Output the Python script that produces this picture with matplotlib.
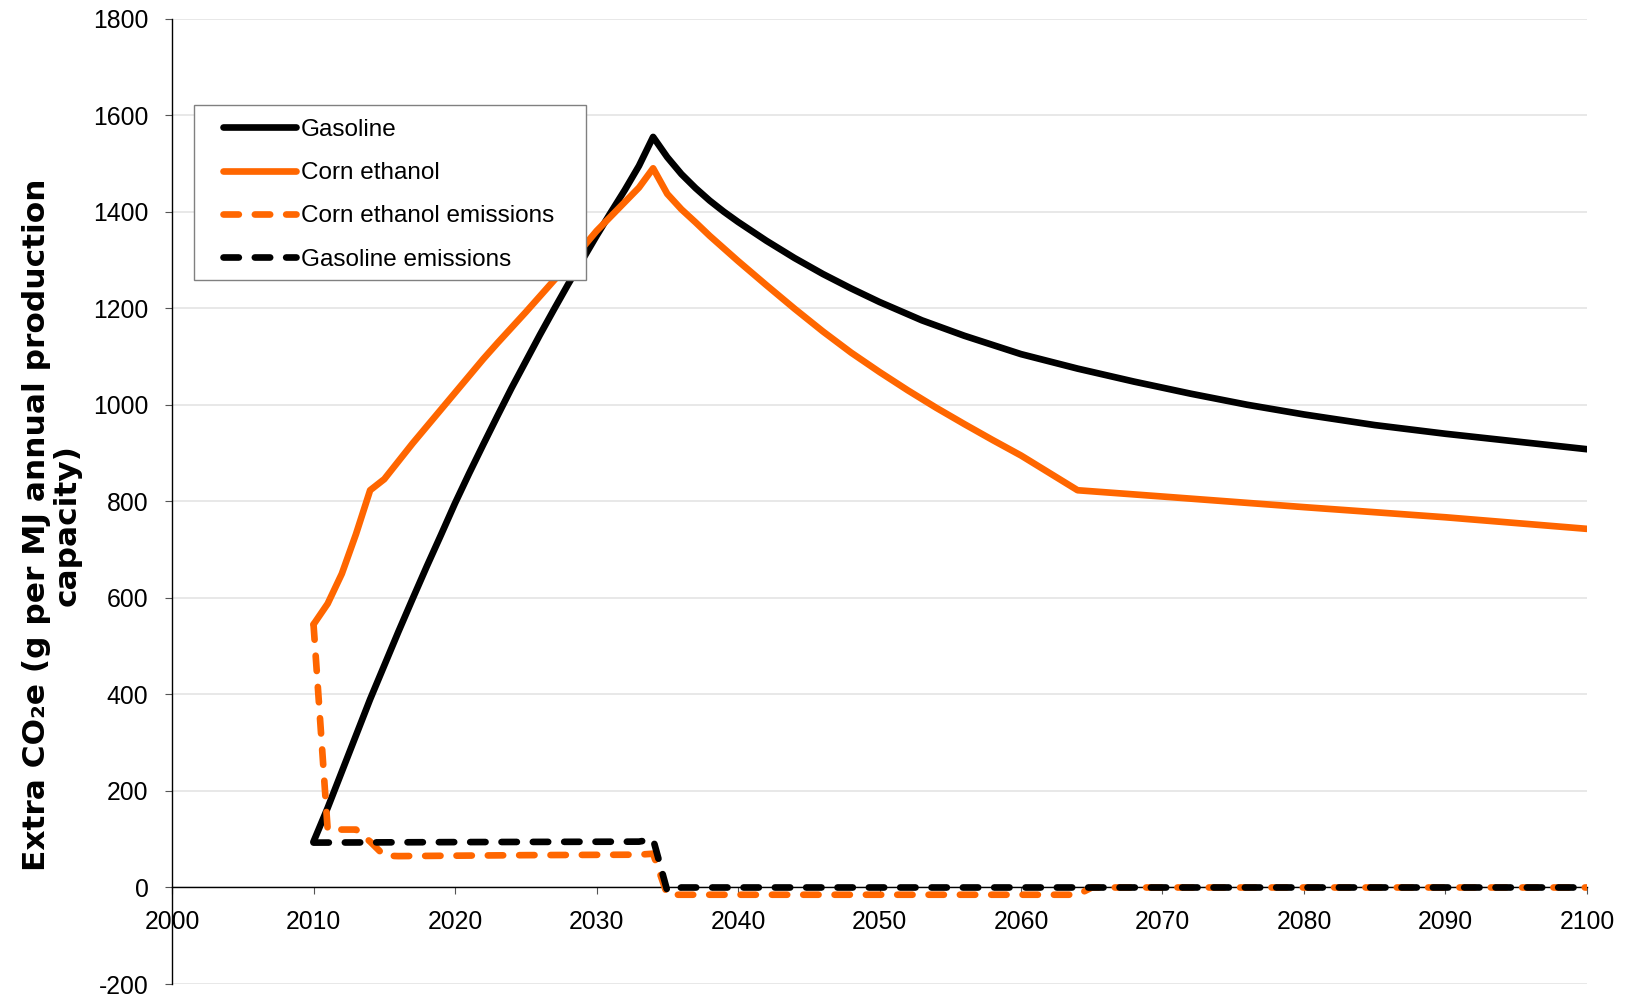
import numpy as np
import matplotlib
matplotlib.use("Agg")
import matplotlib.pyplot as plt
from matplotlib.patches import Rectangle

plt.rcParams["axes.unicode_minus"] = False

# Extra CO2e (g per MJ annual production capacity)
gas_years = [2010, 2011, 2012, 2013, 2014, 2015, 2016, 2017, 2018, 2019, 2020,
             2021, 2022, 2023, 2024, 2025, 2026, 2027, 2028, 2029, 2030,
             2031, 2032, 2033, 2034, 2035, 2036, 2037, 2038, 2039, 2040,
             2042, 2044, 2046, 2048, 2050, 2053, 2056, 2060, 2064, 2068,
             2072, 2076, 2080, 2085, 2090, 2095, 2100]
gas_vals = [95, 165, 240, 315, 390, 460, 530, 598, 665, 730, 796,
            858, 918, 977, 1035, 1090, 1145, 1198, 1250, 1300, 1350,
            1398, 1445, 1495, 1555, 1513, 1478, 1449, 1423, 1400, 1379,
            1340, 1304, 1271, 1241, 1213, 1175, 1143, 1105, 1075, 1048,
            1023, 1000, 980, 958, 940, 924, 908]

eth_years = [2010, 2011, 2012, 2013, 2014, 2015, 2016, 2017, 2018, 2019, 2020,
             2021, 2022, 2023, 2024, 2025, 2026, 2027, 2028, 2029, 2030,
             2031, 2032, 2033, 2034, 2035, 2036, 2037, 2038, 2039, 2040,
             2042, 2044, 2046, 2048, 2050, 2052, 2054, 2056, 2058, 2060,
             2062, 2064, 2070, 2080, 2090, 2100]
eth_vals = [545, 588, 650, 732, 823, 846, 883, 920, 955, 990, 1025,
            1060, 1095, 1128, 1160, 1192, 1225, 1258, 1290, 1325, 1360,
            1390, 1420, 1450, 1490, 1437, 1405, 1378, 1350, 1324, 1298,
            1248, 1199, 1152, 1108, 1068, 1030, 994, 960, 927, 895,
            859, 823, 810, 788, 767, 743]

eth_em_years = [2010, 2011, 2012, 2013, 2014, 2015, 2016, 2025, 2033, 2034,
                2035, 2050, 2064, 2065, 2100]
eth_em_vals = [545, 120, 120, 120, 95, 66, 65, 67, 68, 70,
               -15, -15, -15, 0, 0]

gas_em_years = [2010, 2020, 2033, 2034, 2035, 2036, 2100]
gas_em_vals = [93, 94, 95, 100, -7, 0, 0]

labels = ["Gasoline", "Corn ethanol", "Corn ethanol emissions", "Gasoline emissions"]
orange = "#ff6600"

fig = plt.figure(figsize=(16.26, 9.98), dpi=100)
ax = fig.add_axes([0.1058, 0.014, 0.8702, 0.9673])

lw = 4.8
dash = (0, (2.3, 2.4))
ax.plot(gas_years, gas_vals, color="black", lw=lw, solid_joinstyle="round",
        solid_capstyle="round", label=labels[0], zorder=3)
ax.plot(eth_years, eth_vals, color=orange, lw=lw, solid_joinstyle="round",
        solid_capstyle="round", label=labels[1], zorder=3)
ax.plot(eth_em_years, eth_em_vals, color=orange, lw=lw, ls=dash,
        dash_capstyle="round", label=labels[2], zorder=4)
ax.plot(gas_em_years, gas_em_vals, color="black", lw=lw, ls=dash,
        dash_capstyle="round", label=labels[3], zorder=5)

ax.set_xlim(2000, 2100)
ax.set_ylim(-200, 1800)
ax.set_xticks(np.arange(2000, 2101, 10))
ax.set_yticks(np.arange(-200, 1801, 200))

ax.yaxis.grid(True, color="#e4e4e4", lw=1.2, zorder=0)
ax.set_axisbelow(True)

for s in ["top", "right"]:
    ax.spines[s].set_visible(False)
ax.spines["bottom"].set_position(("data", 0))
ax.spines["bottom"].set_linewidth(1.0)
ax.spines["left"].set_linewidth(1.0)

tick_family = ["Liberation Sans", "DejaVu Sans"]
ax.tick_params(axis="both", direction="out", length=5, width=0.8, color="#555555")
ax.tick_params(axis="y", pad=12)
ax.tick_params(axis="x", pad=11)
for t in ax.get_xticklabels() + ax.get_yticklabels():
    t.set_fontfamily(tick_family)
    t.set_fontsize(17.8)

# y label, two centred lines
fig.text(0.032, 0.474, "Extra CO\u2082e (g per MJ annual production\ncapacity)",
         rotation=90, ha="center", va="center", multialignment="center",
         fontsize=22.5, fontweight="bold", family="DejaVu Sans", linespacing=1.05)

# legend box
ax.add_patch(Rectangle((0.01555, 0.7293), 0.2773, 0.1813, transform=ax.transAxes,
                       facecolor="white", edgecolor="#808080", lw=1.0, zorder=6))
leg = ax.legend(loc="upper left", bbox_to_anchor=(0.0363, 0.8964), frameon=False,
                borderpad=0, borderaxespad=0, handlelength=3.0, handletextpad=0.2,
                labelspacing=0.88, prop={"family": tick_family, "size": 17.5})
leg.set_zorder(7)

fig.savefig("out.png", dpi=100)
